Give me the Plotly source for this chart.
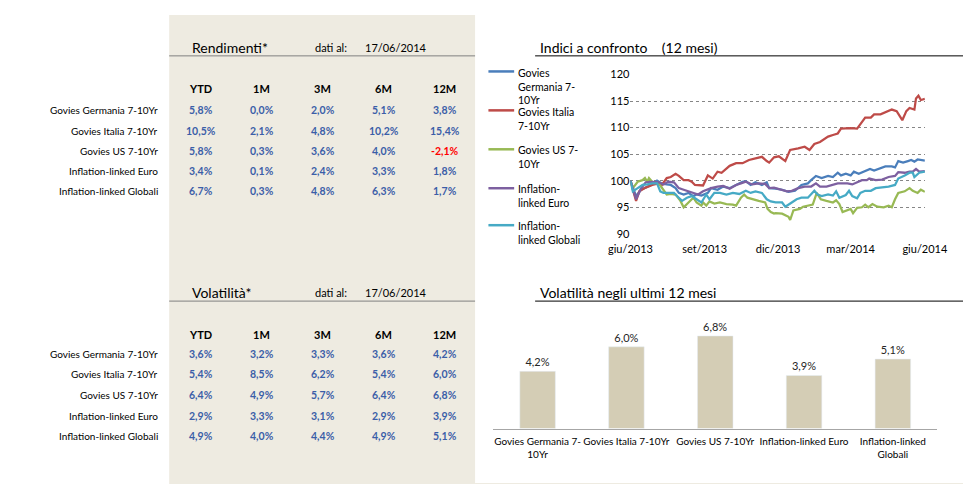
import datetime as dt
import plotly.graph_objects as go

W, H = 978, 484
FONT = "Lato"

# ---------------- data ----------------
row_labels = ["Govies Germania 7-10Yr", "Govies Italia 7-10Yr", "Govies US 7-10Yr",
              "Inflation-linked Euro", "Inflation-linked Globali"]
col_labels = ["YTD", "1M", "3M", "6M", "12M"]
rendimenti = [[5.8, 0.0, 2.0, 5.1, 3.8],
              [10.5, 2.1, 4.8, 10.2, 15.4],
              [5.8, 0.3, 3.6, 4.0, -2.1],
              [3.4, 0.1, 2.4, 3.3, 1.8],
              [6.7, 0.3, 4.8, 6.3, 1.7]]
volatilita = [[3.6, 3.2, 3.3, 3.6, 4.2],
              [5.4, 8.5, 6.2, 5.4, 6.0],
              [6.4, 4.9, 5.7, 6.4, 6.8],
              [2.9, 3.3, 3.1, 2.9, 3.9],
              [4.9, 4.0, 4.4, 4.9, 5.1]]
data_date = "17/06/2014"

bar_categories = row_labels
bar_ticktext = ["Govies Germania 7-<br>10Yr", "Govies Italia 7-10Yr", "Govies US 7-10Yr",
                "Inflation-linked Euro", "Inflation-linked<br>Globali"]
bar_values = [4.2, 6.0, 6.8, 3.9, 5.1]

start_date = dt.date(2013, 6, 17)
# day offsets from start date and index values
ger_days = [0, 7, 13, 19, 27, 33, 39, 45, 50, 56, 60, 66, 72, 78, 82, 88, 96, 100, 108, 115, 123, 131,
            139, 143, 149, 155, 163, 169, 172, 180, 188, 196, 204, 212, 220, 224, 230, 237, 245, 251,
            257, 261, 267, 273, 277, 283, 289, 297, 302, 308, 316, 324, 328, 332, 338, 344, 348, 352,
            356, 365]
ger_vals = [100, 97.1, 98.3, 98.7, 99.3, 100.0, 99.5, 99.3, 99.2, 98.6, 97.7, 97.4, 97.7, 97.1, 97.4,
            97.2, 97.7, 98.6, 98.3, 98.9, 98.6, 99.2, 99.8, 99.9, 99.2, 99.7, 99.2, 99.7, 98.6, 98.5,
            98.3, 97.9, 98.1, 99.2, 99.5, 100.1, 100.9, 100.5, 100.9, 100.7, 101.5, 101.0, 101.3,
            101.0, 101.7, 101.3, 101.7, 102.2, 101.9, 102.3, 102.7, 102.7, 102.5, 103.7, 103.4,
            103.7, 103.9, 103.6, 104.0, 103.8]

ita_days = [0, 7, 11, 19, 27, 35, 39, 45, 50, 56, 60, 66, 72, 76, 80, 90, 96, 102, 108, 113, 123, 131,
            139, 147, 155, 163, 169, 172, 178, 184, 192, 198, 208, 216, 222, 228, 235, 245, 251, 257,
            261, 267, 273, 281, 285, 291, 298, 302, 310, 316, 324, 330, 334, 337, 342, 346, 352, 354,
            357, 360, 365]
ita_vals = [100, 96.2, 98.0, 98.7, 99.2, 99.5, 99.2, 100.5, 100.7, 101.3, 100.9, 100.1, 100.1, 99.8,
            99.2, 99.1, 101.0, 100.4, 101.7, 101.5, 102.8, 103.3, 103.3, 103.9, 104.2, 104.5, 103.7,
            103.4, 104.4, 104.6, 103.7, 105.8, 106.1, 106.4, 105.8, 106.9, 107.3, 108.3, 108.6, 108.9,
            109.8, 109.9, 109.9, 109.8, 110.7, 111.9, 111.9, 112.5, 112.5, 112.9, 113.4, 113.1, 112.2,
            111.4, 113.1, 113.7, 113.4, 115.5, 116.0, 115.2, 115.4]

us_days = [0, 3, 9, 15, 18, 21, 23, 27, 35, 39, 45, 50, 56, 62, 66, 72, 78, 82, 88, 90, 94, 98, 104,
           111, 119, 127, 131, 137, 141, 145, 151, 159, 167, 170, 174, 178, 180, 188, 196, 198, 202,
           210, 214, 220, 226, 231, 236, 243, 251, 255, 259, 263, 267, 273, 276, 281, 287, 291, 295,
           300, 306, 314, 320, 324, 328, 332, 340, 346, 350, 356, 360, 365]
us_vals = [100, 98.6, 99.8, 100.1, 100.5, 99.8, 100.5, 99.8, 99.5, 98.6, 97.4, 97.5, 97.4, 96.2, 95.0,
           95.9, 96.8, 95.9, 95.3, 95.9, 95.3, 96.1, 95.7, 95.9, 95.6, 95.5, 95.3, 96.8, 97.4, 96.8,
           96.5, 96.2, 95.9, 94.7, 94.1, 93.8, 93.9, 93.8, 93.2, 92.6, 94.4, 94.7, 95.1, 95.3, 95.5,
           97.7, 96.5, 96.2, 95.9, 96.3, 95.6, 94.1, 94.4, 94.7, 93.9, 94.9, 95.0, 95.5, 95.0, 95.6,
           95.1, 95.0, 95.3, 95.0, 96.5, 97.7, 98.0, 98.6, 98.1, 97.7, 98.3, 97.9]

eur_days = [0, 7, 13, 19, 27, 35, 41, 47, 54, 60, 66, 72, 78, 84, 90, 100, 108, 115, 123, 131, 137, 143,
            151, 159, 167, 172, 178, 188, 194, 200, 208, 216, 224, 230, 235, 243, 251, 257, 263, 269,
            275, 281, 287, 293, 296, 304, 312, 320, 328, 332, 340, 346, 350, 354, 358, 365]
eur_vals = [100, 96.5, 98.5, 99.7, 99.8, 99.7, 99.3, 99.8, 99.7, 98.6, 98.3, 98.0, 97.7, 97.4, 98.0,
            98.6, 98.9, 99.0, 98.5, 99.2, 99.5, 99.8, 99.3, 99.5, 99.4, 98.6, 98.7, 98.3, 98.0, 98.1,
            98.6, 98.9, 98.9, 99.5, 98.9, 98.9, 99.2, 99.5, 99.5, 99.5, 99.3, 99.7, 100.1, 100.1, 100.4,
            100.1, 100.2, 100.7, 100.9, 101.6, 101.5, 101.7, 101.7, 102.2, 101.7, 101.8]

glo_days = [0, 3, 9, 15, 21, 27, 33, 37, 41, 48, 54, 60, 64, 70, 76, 82, 88, 94, 98, 104, 111, 119,
            127, 135, 143, 149, 155, 163, 169, 174, 180, 188, 192, 200, 206, 212, 220, 228, 232, 237,
            245, 251, 255, 259, 263, 267, 271, 275, 281, 285, 291, 298, 304, 310, 320, 328, 332, 340,
            346, 350, 352, 358, 365]
glo_vals = [100, 98.0, 98.6, 99.2, 99.3, 99.5, 99.5, 98.0, 97.7, 97.7, 97.7, 96.8, 96.2, 96.8, 97.1,
            96.5, 95.9, 97.4, 96.5, 97.7, 97.7, 97.4, 97.7, 97.5, 98.1, 97.7, 98.0, 97.7, 96.5, 96.1,
            95.9, 95.9, 95.1, 95.9, 96.5, 96.8, 96.8, 98.1, 97.4, 97.1, 97.4, 97.2, 98.0, 96.8, 97.0,
            97.3, 98.1, 97.1, 96.7, 97.7, 98.1, 98.1, 98.6, 98.7, 98.9, 99.2, 100.4, 101.0, 101.5,
            101.5, 100.7, 101.5, 101.7]

series_days = [ger_days, ita_days, us_days, eur_days, glo_days]
series_vals = [ger_vals, ita_vals, us_vals, eur_vals, glo_vals]
legend_labels = ["Govies<br>Germania 7-<br>10Yr", "Govies Italia<br>7-10Yr", "Govies US 7-<br>10Yr",
                 "Inflation-<br>linked Euro", "Inflation-<br>linked Globali"]
line_colors = ["#4A7EBB", "#BE4B48", "#98B954", "#7D60A0", "#46AAC5"]

x_tick_dates = ["2013-06-17", "2013-09-17", "2013-12-17", "2014-03-17", "2014-06-17"]
x_tick_text = ["giu/2013", "set/2013", "dic/2013", "mar/2014", "giu/2014"]

# ---------------- helpers ----------------
def px(x):
    return x / W

def py(y):
    return 1 - y / H

def fmt(v):
    return f"{v:.1f}%".replace(".", ",")

fig = go.Figure()
annotations = []
shapes = []

# beige panel
shapes.append(dict(type="rect", xref="paper", yref="paper", x0=px(145), x1=px(466), y0=0, y1=1,
                   fillcolor="#EEEBE1", line_width=0, layer="below"))
shapes.append(dict(type="rect", xref="paper", yref="paper", x0=px(466), x1=1, y0=0, y1=py(481),
                   fillcolor="#EEEBE1", line_width=0, layer="below"))

def add_table(title, values, title_y, line_y, header_y, row_y0, dy):
    annotations.append(dict(x=px(167), y=py(title_y), xref="paper", yref="paper", text=title,
                            showarrow=False, xanchor="left", yanchor="middle",
                            font=dict(family=FONT, size=14, color="#000000")))
    annotations.append(dict(x=px(296), y=py(title_y), xref="paper", yref="paper", text="dati al:",
                            showarrow=False, xanchor="left", yanchor="middle",
                            font=dict(family=FONT, size=11, color="#000000")))
    annotations.append(dict(x=px(348), y=py(title_y), xref="paper", yref="paper", text=data_date,
                            showarrow=False, xanchor="left", yanchor="middle",
                            font=dict(family=FONT, size=11, color="#000000")))
    shapes.append(dict(type="line", xref="paper", yref="paper", x0=px(145), x1=px(466),
                       y0=py(line_y), y1=py(line_y), line=dict(color="#808080", width=1)))
    col_x = [178, 242, 306, 370, 434]
    for cx, c in zip(col_x, col_labels):
        annotations.append(dict(x=px(cx), y=py(header_y), xref="paper", yref="paper",
                                text=f"<b>{c}</b>", showarrow=False, xanchor="center",
                                yanchor="middle", font=dict(family=FONT, size=11, color="#000000")))
    for i, (lab, row) in enumerate(zip(row_labels, values)):
        yy = row_y0 + i * dy
        annotations.append(dict(x=px(135), y=py(yy), xref="paper", yref="paper", text=lab,
                                showarrow=False, xanchor="right", yanchor="middle",
                                font=dict(family=FONT, size=10, color="#000000")))
        for cx, v in zip(col_x, row):
            col = "#FF0000" if v < 0 else "#3B5EA8"
            annotations.append(dict(x=px(cx), y=py(yy), xref="paper", yref="paper",
                                    text=f"<b>{fmt(v)}</b>", showarrow=False, xanchor="center",
                                    yanchor="middle", font=dict(family=FONT, size=10.5, color=col)))

add_table("Rendimenti*", rendimenti, 33, 42, 76, 98, 20.8)
add_table("Volatilità*", volatilita, 285, 294, 328, 348, 21.2)

# ---------------- line chart ----------------
for name, d, v, c in zip(row_labels, series_days, series_vals, line_colors):
    dates = [start_date + dt.timedelta(days=k) for k in d]
    fig.add_trace(go.Scatter(x=dates, y=v, mode="lines", name=name, showlegend=False,
                             line=dict(color=c, width=2.25), xaxis="x", yaxis="y"))

annotations.append(dict(x=px(532), y=py(33), xref="paper", yref="paper",
                        text="Indici a confronto&nbsp;&nbsp;&nbsp;&nbsp;(12 mesi)",
                        showarrow=False, xanchor="left", yanchor="middle",
                        font=dict(family=FONT, size=14, color="#000000")))
shapes.append(dict(type="line", xref="paper", yref="paper", x0=px(529), x1=1,
                   y0=py(42), y1=py(42), line=dict(color="#000000", width=1)))

legend_y = [58, 98, 138, 178, 216]
for lab, c, ly in zip(legend_labels, line_colors, legend_y):
    shapes.append(dict(type="line", xref="paper", yref="paper", x0=px(480), x1=px(507),
                       y0=py(ly), y1=py(ly), line=dict(color=c, width=2.5)))
    annotations.append(dict(x=px(509), y=py(ly - 7), xref="paper", yref="paper", text=lab,
                            showarrow=False, xanchor="left", yanchor="top", align="left",
                            font=dict(family=FONT, size=10.5, color="#000000")))

# ---------------- bar chart ----------------
fig.add_trace(go.Bar(x=bar_categories, y=bar_values, marker_color="#D4CDB5", showlegend=False,
                     text=[fmt(v) for v in bar_values], textposition="outside",
                     textfont=dict(family=FONT, size=11, color="#262626"), cliponaxis=False,
                     xaxis="x2", yaxis="y2"))
annotations.append(dict(x=px(532), y=py(285), xref="paper", yref="paper",
                        text="Volatilità negli ultimi 12 mesi",
                        showarrow=False, xanchor="left", yanchor="middle",
                        font=dict(family=FONT, size=14, color="#000000")))
shapes.append(dict(type="line", xref="paper", yref="paper", x0=px(529), x1=1,
                   y0=py(294), y1=py(294), line=dict(color="#000000", width=1)))

fig.update_layout(
    width=W, height=H, margin=dict(l=0, r=0, t=0, b=0),
    paper_bgcolor="#FFFFFF", plot_bgcolor="rgba(0,0,0,0)",
    font=dict(family=FONT, size=11, color="#000000"),
    shapes=shapes, annotations=annotations,
    bargap=0.6,
    xaxis=dict(domain=[px(629), px(938)], type="date",
               range=[x_tick_dates[0], x_tick_dates[-1]],
               tickmode="array", tickvals=x_tick_dates, ticktext=x_tick_text,
               showgrid=False, showline=False, zeroline=False, ticks="",
               ticklabelstandoff=7,
               tickfont=dict(family=FONT, size=11, color="#000000"), anchor="y"),
    yaxis=dict(domain=[py(225), py(61)], range=[89.97, 120.03], tickmode="array",
               tickvals=[90, 95, 100, 105, 110, 115, 120],
               showgrid=True, gridcolor="#868686", griddash="dot", gridwidth=1,
               showline=False, zeroline=False, ticks="",
               tickfont=dict(family=FONT, size=11, color="#000000"), anchor="x"),
    xaxis2=dict(domain=[px(485), px(951)], showgrid=False, showline=True, linecolor="#A6A6A6",
                linewidth=1, ticks="", tickmode="array", tickvals=bar_categories,
                ticktext=bar_ticktext, tickangle=0, ticklabelstandoff=3,
                tickfont=dict(family=FONT, size=10, color="#000000"), anchor="y2"),
    yaxis2=dict(domain=[py(425), py(313)], range=[0, 8], visible=False, anchor="x2"),
)

fig.write_html("out.html")
